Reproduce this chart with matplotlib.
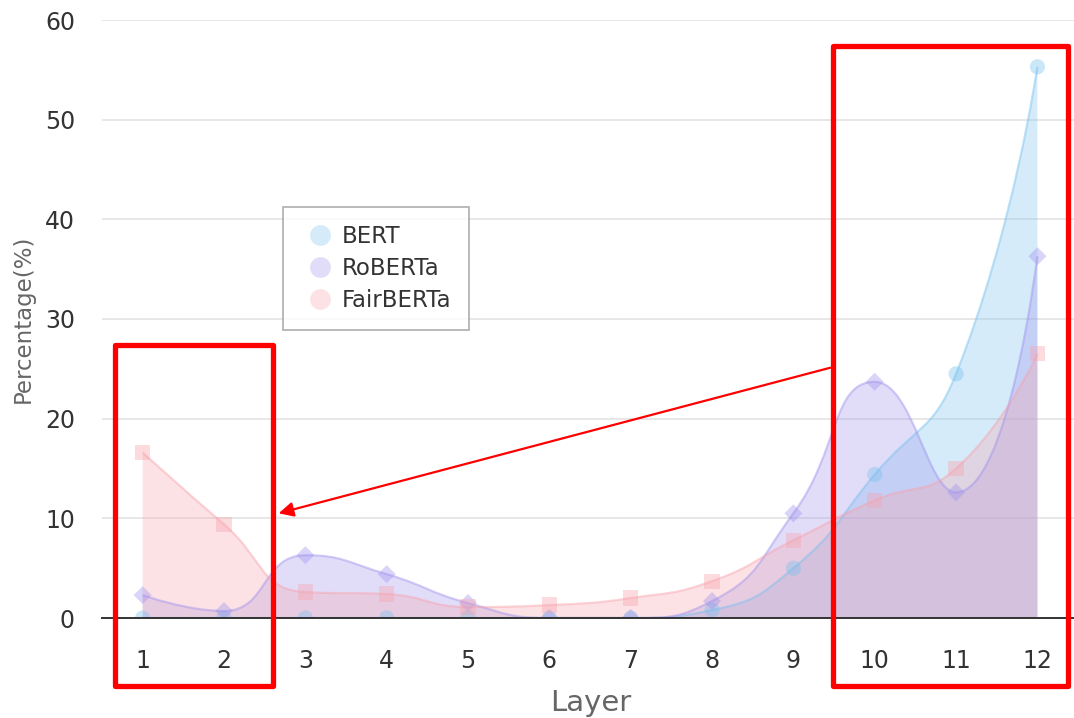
import numpy as np
import matplotlib
matplotlib.use("Agg")
import matplotlib.pyplot as plt
from matplotlib.path import Path
from matplotlib.patches import PathPatch, Rectangle, FancyArrowPatch

layers = [1, 2, 3, 4, 5, 6, 7, 8, 9, 10, 11, 12]
bert = [0, 0, 0, 0, 0, 0, 0, 0.8, 5.0, 14.4, 24.5, 55.3]
roberta = [2.3, 0.7, 6.3, 4.4, 1.5, 0, 0, 1.7, 10.5, 23.7, 12.6, 36.3]
fairberta = [16.6, 9.4, 2.6, 2.4, 1.1, 1.3, 2.0, 3.7, 7.8, 11.8, 15.0, 26.5]
series_names = ["BERT", "RoBERTa", "FairBERTa"]
series_colors = ["#76c0ee", "#9e91ee", "#f8a2ac"]
series_markers = ["o", "D", "s"]

# pixel scale, used so the smoothing behaves like the original renderer
PX_X, PX_Y = 81.3, 9.97


def smooth_path(xs, ys, smooth=0.5):
    # bezier smoothing with clamped control points (no overshoot)
    px = [(x - xs[0]) * PX_X for x in xs]
    py = [y * PX_Y for y in ys]
    n = len(px)
    verts = [(px[0], py[0])]
    codes = [Path.MOVETO]
    cpx0, cpy0 = px[0], py[0]
    for i in range(1, n):
        x, y = px[i], py[i]
        prevX, prevY = px[i - 1], py[i - 1]
        if i + 1 >= n:
            cpx1, cpy1 = x, y
            nx0, ny0 = x, y
        else:
            nextX, nextY = px[i + 1], py[i + 1]
            vx, vy = nextX - prevX, nextY - prevY
            lp = np.hypot(x - prevX, y - prevY)
            ln = np.hypot(nextX - x, nextY - y)
            r = ln / (ln + lp)
            nx0 = x + vx * smooth * r
            ny0 = y + vy * smooth * r
            nx0 = max(min(nx0, max(nextX, x)), min(nextX, x))
            ny0 = max(min(ny0, max(nextY, y)), min(nextY, y))
            vx, vy = nx0 - x, ny0 - y
            cpx1 = x - vx * lp / ln
            cpy1 = y - vy * lp / ln
            cpx1 = max(min(cpx1, max(prevX, x)), min(prevX, x))
            cpy1 = max(min(cpy1, max(prevY, y)), min(prevY, y))
            vx, vy = x - cpx1, y - cpy1
            nx0 = x + vx * ln / lp
            ny0 = y + vy * ln / lp
        verts += [(cpx0, cpy0), (cpx1, cpy1), (x, y)]
        codes += [Path.CURVE4] * 3
        cpx0, cpy0 = nx0, ny0
    verts = [(vx_ / PX_X + xs[0], vy_ / PX_Y) for vx_, vy_ in verts]
    return verts, codes


fig = plt.figure(figsize=(10.74, 7.18), dpi=100)
ax = fig.add_axes([102 / 1074, 100 / 718, 1 - 102 / 1074, 598 / 718])

for vals, name, col, mk in zip([bert, roberta, fairberta], series_names,
                               series_colors, series_markers):
    verts, codes = smooth_path(layers, vals)
    fill_verts = verts + [(layers[-1], 0), (layers[0], 0), verts[0]]
    fill_codes = codes + [Path.LINETO, Path.LINETO, Path.CLOSEPOLY]
    ax.add_patch(PathPatch(Path(fill_verts, fill_codes), facecolor=col,
                           edgecolor="none", alpha=0.3, zorder=2))
    ax.add_patch(PathPatch(Path(verts, codes), facecolor="none",
                           edgecolor=col, alpha=0.45, lw=1.6, zorder=3))
    ax.scatter(layers, vals, marker=mk, s=120 if mk != "D" else 85,
               color=col, alpha=0.38, edgecolors="none", zorder=4)

ax.set_xlim(0.5, 12.45)
ax.set_ylim(0, 60)
ax.set_xticks(layers)
ax.set_yticks(range(0, 61, 10))
ax.tick_params(length=0, labelsize=17, labelcolor="#333333")
ax.tick_params(axis="y", pad=19.5)
ax.tick_params(axis="x", pad=22)
ax.grid(axis="y", color="#e3e3e3", lw=1.2)
ax.set_axisbelow(True)
for s in ["top", "right", "left"]:
    ax.spines[s].set_visible(False)
ax.spines["bottom"].set_color("#333333")
ax.spines["bottom"].set_linewidth(1.4)
ax.spines["bottom"].set_zorder(5)
ax.set_xlabel("Layer", fontsize=21, color="#666666", va="center")
ax.xaxis.set_label_coords(0.503, (618 - 703) / 598)
ax.set_ylabel("Percentage(%)", fontsize=16.5, color="#666666", va="center")
ax.yaxis.set_label_coords((23 - 102) / 972, 0.5)

handles = [plt.Line2D([], [], marker="o", ls="none", markersize=15,
                      color=c, alpha=0.3, markeredgecolor="none")
           for c in series_colors]
leg = ax.legend(handles, series_names, loc="upper left",
                bbox_to_anchor=(283 / 1074, 1 - 207 / 718),
                bbox_transform=fig.transFigure, fontsize=16.5,
                frameon=True, fancybox=False, borderpad=0.8,
                labelspacing=0.38, handlelength=1.6, handletextpad=0.15,
                borderaxespad=0)
leg.get_frame().set_edgecolor("#999999")
leg.get_frame().set_linewidth(1.2)
for t in leg.get_texts():
    t.set_color("#333333")


def fig_rect(x0, y0, x1, y1):
    r = Rectangle((x0 / 1074, 1 - y1 / 718), (x1 - x0) / 1074, (y1 - y0) / 718,
                  transform=fig.transFigure, fill=False, edgecolor="red",
                  lw=3.8, joinstyle="round", zorder=10)
    fig.add_artist(r)


fig_rect(115, 345, 273, 686)
fig_rect(833, 46, 1068, 686)
arrow = FancyArrowPatch((833 / 1074, 1 - 367 / 718), (276 / 1074, 1 - 514 / 718),
                        transform=fig.transFigure, arrowstyle="-|>",
                        mutation_scale=22, color="red", lw=1.6, zorder=10)
fig.add_artist(arrow)

fig.savefig("out.png", dpi=100)
